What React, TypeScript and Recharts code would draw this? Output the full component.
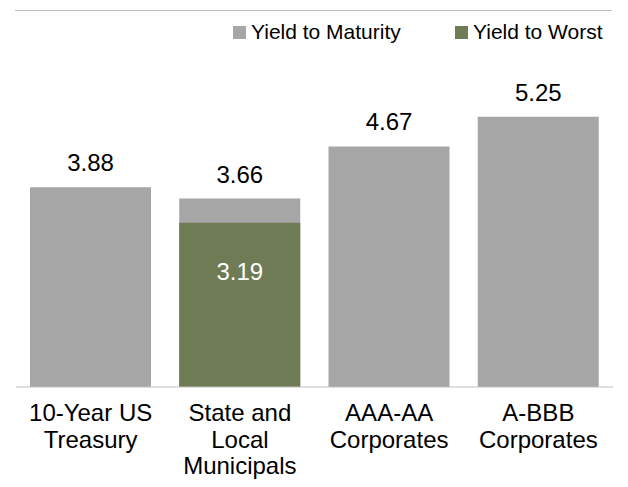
import React from "react";
import { Bar, BarChart, LabelList, Legend, XAxis, YAxis } from "recharts";

const categories = [
  "10-Year US\nTreasury",
  "State and\nLocal\nMunicipals",
  "AAA-AA\nCorporates",
  "A-BBB\nCorporates",
];
const yieldToMaturity = [3.88, 3.66, 4.67, 5.25];
const yieldToWorst = [null, 3.19, null, null];

const seriesNames = ["Yield to Maturity", "Yield to Worst"];
const GRAY = "#A6A6A6";
const GREEN = "#6E7B55";
const FONT = "'Liberation Sans', Arial, Helvetica, sans-serif";

const data = categories.map((name, i) => ({
  name,
  ytm: yieldToMaturity[i],
  ytw: yieldToWorst[i],
}));

function WrapTick({ x, y, payload }: any) {
  const lines = String(payload.value).split("\n");
  return (
    <text x={x} y={y + 26} textAnchor="middle" fill="#000" fontSize={24} fontFamily={FONT}>
      {lines.map((l, i) => (
        <tspan key={i} x={x} dy={i === 0 ? 0 : 26.5}>
          {l}
        </tspan>
      ))}
    </text>
  );
}

function LegendBox() {
  const items = [
    { name: seriesNames[0], color: GRAY, left: 233 },
    { name: seriesNames[1], color: GREEN, left: 455 },
  ];
  return (
    <div style={{ position: "relative", width: 628, height: 24, fontFamily: FONT, fontSize: 21 }}>
      {items.map((it) => (
        <div
          key={it.name}
          style={{ position: "absolute", left: it.left, top: 0, display: "flex", alignItems: "center", height: 24 }}
        >
          <span style={{ width: 13, height: 13, background: it.color, display: "inline-block", marginRight: 5 }} />
          <span style={{ color: "#000", whiteSpace: "nowrap" }}>{it.name}</span>
        </div>
      ))}
    </div>
  );
}

export default function App() {
  return (
    <div style={{ position: "absolute", left: 0, top: 0, width: 628, height: 487, background: "#fff" }}>
      <div style={{ position: "absolute", left: 15, top: 10, width: 597, borderTop: "1px solid #BFBFBF" }} />
      <BarChart
        width={628}
        height={487}
        data={data}
        margin={{ top: 78, right: 15, left: 16, bottom: 20 }}
        barGap={-121}
        barSize={121}
      >
        <XAxis
          dataKey="name"
          axisLine={{ stroke: "#BFBFBF", strokeWidth: 1 }}
          tickLine={false}
          height={80}
          interval={0}
          tick={<WrapTick />}
        />
        <YAxis hide domain={[0, 6]} />
        <Legend
          layout="horizontal"
          verticalAlign="middle"
          align="center"
          wrapperStyle={{ top: 20, left: 0, width: 628 }}
          content={() => <LegendBox />}
        />
        <Bar dataKey="ytm" name={seriesNames[0]} fill={GRAY} isAnimationActive={false}>
          <LabelList
            dataKey="ytm"
            position="top"
            offset={16}
            fill="#000"
            fontSize={24}
            fontFamily={FONT}
          />
        </Bar>
        <Bar dataKey="ytw" name={seriesNames[1]} fill={GREEN} isAnimationActive={false}>
          <LabelList
            dataKey="ytw"
            position="insideTop"
            offset={40}
            fill="#fff"
            fontSize={24}
            fontFamily={FONT}
          />
        </Bar>
      </BarChart>
    </div>
  );
}
